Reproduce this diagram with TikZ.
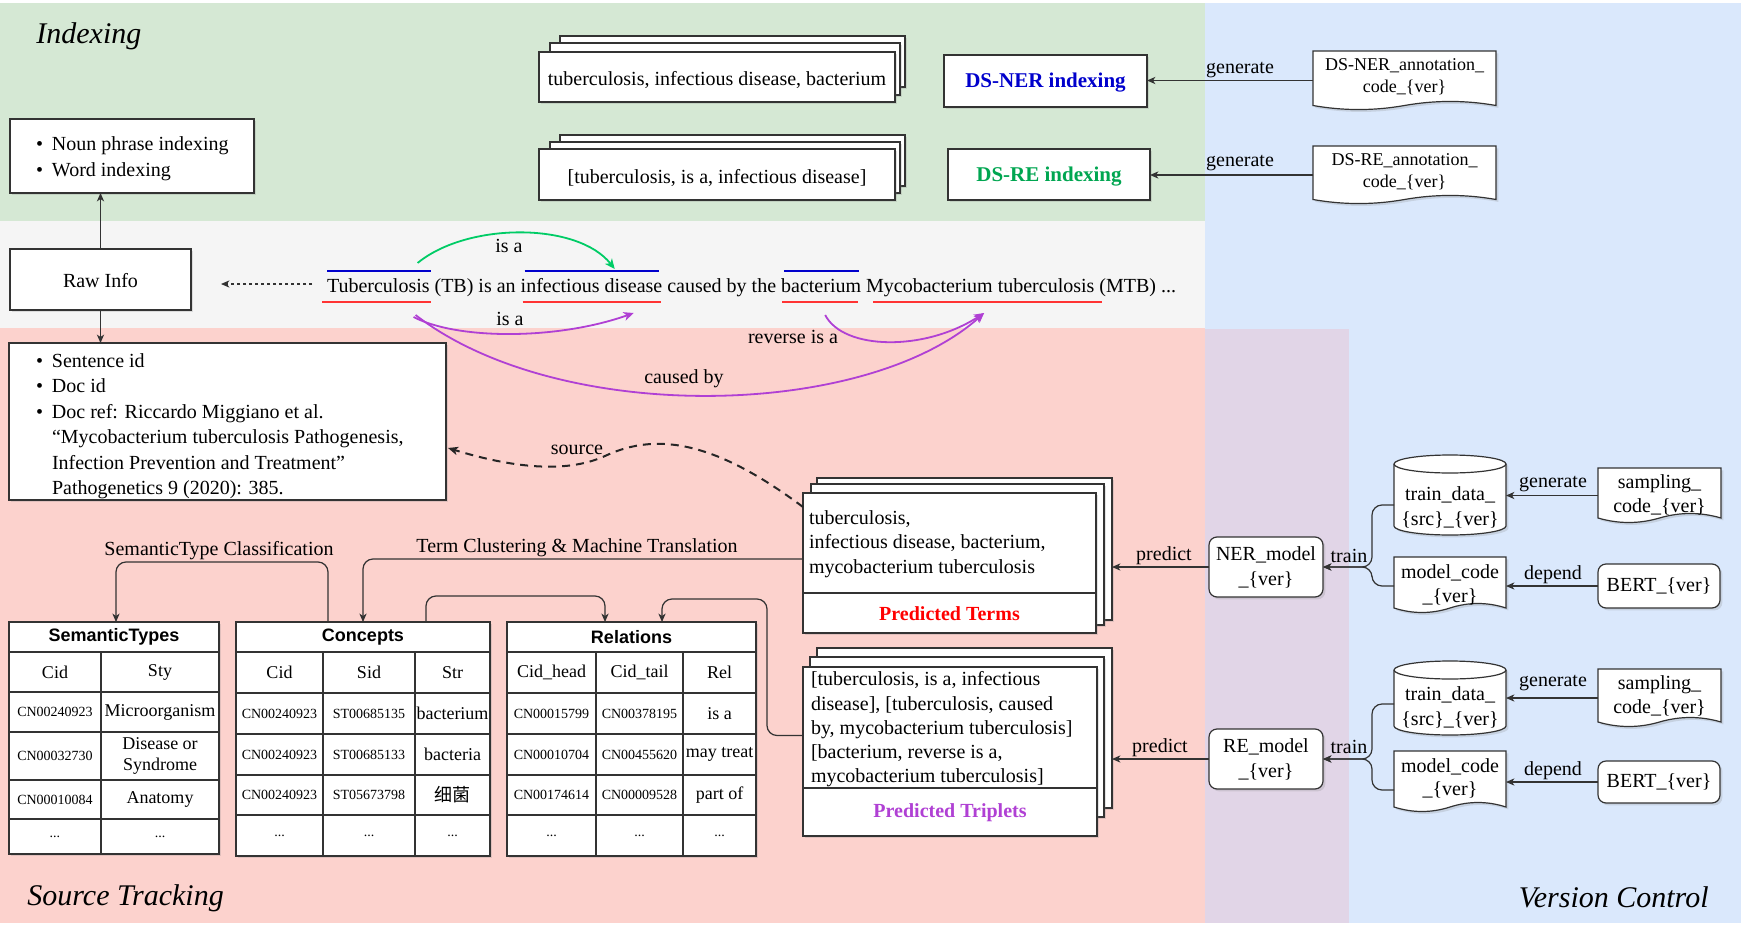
\documentclass[tikz,border=0pt]{standalone}
\usepackage{fontspec}
\setmainfont{Liberation Serif}
\setsansfont{Liberation Sans}
\newfontfamily\cjkfont{Noto Sans CJK SC}
\usetikzlibrary{arrows.meta,calc,shadows}

\definecolor{cgreen}{HTML}{D5E8D4}
\definecolor{cgray}{HTML}{F5F5F5}
\definecolor{cpink}{HTML}{FCD2CD}
\definecolor{cblue}{HTML}{DAE8FC}
\definecolor{clav}{HTML}{E1D5E7}
\definecolor{nerblue}{HTML}{0000CC}
\definecolor{regreen}{HTML}{00A651}
\definecolor{arrgreen}{HTML}{00CC66}
\definecolor{cpurple}{HTML}{B040D4}
\definecolor{ured}{HTML}{FF3333}
\definecolor{ovblue}{HTML}{0000CC}

\newcommand\bul{\makebox[8pt][l]{\textbullet}}
\newcommand\nobul{\hspace*{8pt}}
\newcommand\lowr[2]{\raisebox{-#1}[\height][\depth]{#2}}

\newcommand\bx[7][]{%
  \pgfmathsetmacro\bxcx{(#3+#5)/2}%
  \pgfmathsetmacro\bxcy{(#4+#6)/2}%
  \pgfmathsetmacro\bxw{(#5-#3)/2}%
  \pgfmathsetmacro\bxh{(#6-#4)/2}%
  \node[#1, minimum width=\bxw pt, minimum height=\bxh pt] (#2) at (\bxcx,\bxcy) {#7};%
}

% [text style]{name}{x1}{y1}{x2}{y2}{wave}{text shift}{text}
\newcommand\docshape[9][]{%
  \bx[plain]{#2}{#3}{#4}{#5}{#6}{}%
  \draw[docline] (#2.north west) -- (#2.north east) -- ($(#2.south east)+(0,-#7/2)$)
    .. controls ($(#2.south west)!0.8333!(#2.south east)+(0,-1.1*#7)$) and ($(#2.south west)!0.6667!(#2.south east)+(0,-1.1*#7)$) .. ($(#2.south west)!0.5!(#2.south east)+(0,-#7/2)$)
    .. controls ($(#2.south west)!0.3333!(#2.south east)+(0,0.1*#7)$) and ($(#2.south west)!0.1667!(#2.south east)+(0,0.1*#7)$) .. ($(#2.south west)+(0,-#7/2)$) -- cycle;%
  \node[lbl, align=center, #1] (#2t) at ($(#2.center)+(0,#8)$) {#9};%
}

\newcommand\cylshape[6]{%
  \pgfmathsetmacro\cxm{(#2+#4)/2}%
  \pgfmathsetmacro\crx{(#4-#2)/2}%
  \pgfmathsetmacro\cya{#3+#6}%
  \pgfmathsetmacro\cyb{#5-#6}%
  \pgfmathsetmacro\cyc{#3+2*#6}%
  \pgfmathsetmacro\ckx{0.5523*\crx}%
  \pgfmathsetmacro\cky{0.5523*#6}%
  \draw[docline] (#2,\cya) -- (#2,\cyb) .. controls (#2,\cyb+\cky) and (\cxm-\ckx,#5) .. (\cxm,#5) .. controls (\cxm+\ckx,#5) and (#4,\cyb+\cky) .. (#4,\cyb) -- (#4,\cya) .. controls (#4,\cya-\cky) and (\cxm+\ckx,#3) .. (\cxm,#3) .. controls (\cxm-\ckx,#3) and (#2,\cya-\cky) .. (#2,\cya) -- cycle;%
  \draw[conn] (#2,\cya) .. controls (#2,\cya+\cky) and (\cxm-\ckx,\cyc) .. (\cxm,\cyc) .. controls (\cxm+\ckx,\cyc) and (#4,\cya+\cky) .. (#4,\cya);%
  \bx[plain]{#1}{#2}{#3}{#4}{#5}{}%
}

\tikzset{
  plain/.style={inner sep=0pt, outer sep=0pt},
  shad/.style={drop shadow={shadow xshift=1.2pt, shadow yshift=-1.2pt, opacity=0.22}},
  box/.style={draw=black!80, line width=0.6pt, fill=white, inner sep=0pt, outer sep=0pt, font=\fontsize{10}{12.5}\selectfont, shad},
  fbox/.style={box, line width=1.1pt},
  rbox/.style={box, rounded corners=4pt, align=center},
  docline/.style={draw=black!80, line width=0.6pt, fill=white, shad},
  conn/.style={draw=black!80, line width=0.6pt},
  arr/.style={conn, -{Stealth[length=4.2pt, width=3.6pt, inset=1.2pt]}},
  darr/.style={arr, dash pattern=on 1.5pt off 1.5pt},
  sarr/.style={draw=black!85, line width=1pt, dash pattern=on 4pt off 3pt, -{Stealth[length=5pt, width=4.2pt, inset=1.3pt]}},
  lbl/.style={inner sep=0pt, outer sep=0pt, font=\fontsize{10}{12.5}\selectfont},
  big/.style={inner sep=0pt, font=\fontsize{15}{18}\selectfont\itshape},
  sent/.style={inner sep=0pt, outer sep=0pt, font=\fontsize{10}{12}\selectfont},
  ovl/.style={draw=ovblue, line width=1pt},
  unl/.style={draw=ured, line width=1pt},
  carr/.style={line width=0.9pt, -{Stealth[length=5pt, width=4.4pt, inset=1.4pt]}},
  tbox/.style={draw=black!80, line width=0.7pt, fill=white, inner sep=0pt, outer sep=0pt, shad},
  tline/.style={draw=black!80, line width=0.7pt},
  thead/.style={inner sep=0pt, font=\sffamily\bfseries\fontsize{9}{11}\selectfont},
  tcell/.style={inner sep=0pt, align=center, font=\fontsize{9}{10.75}\selectfont},
  tcode/.style={inner sep=0pt, font=\fontsize{7}{8}\selectfont},
}

\begin{document}
\begin{tikzpicture}[x=0.5pt,y=-0.5pt]
\useasboundingbox (0,0) rectangle (1741,926);
\fill[white] (0,0) rectangle (1741,926);
% regions
\fill[cgreen] (0,3) rectangle (1205,221);
\fill[cgray] (0,221) rectangle (1205,328);
\fill[cpink] (0,328) rectangle (1205,923);
\fill[cblue] (1205,3) rectangle (1741,923);
\fill[clav] (1205,329) rectangle (1349,923);

\node[big, anchor=west] (tIdx) at (36,36) {Indexing};
\node[big, anchor=west] (tSrc) at (27,898) {Source Tracking};
\node[big, anchor=east] (tVer) at (1709,897) {Version Control};

% indexing boxes
\bx[box]{nb}{10}{119}{254}{193}{}
\node[lbl, align=left, anchor=west, font=\fontsize{10}{13}\selectfont] (nbt) at (36,159) {\bul Noun phrase indexing\\\bul Word indexing};
\bx[box]{raw}{10}{249}{191}{310}{\lowr{0.5pt}{Raw Info}}

\bx[box]{k1c}{560}{36}{905}{87}{}
\bx[box]{k1b}{550}{43}{900}{95}{}
\bx[box]{k1a}{539}{52}{895}{102}{\lowr{1.5pt}{tuberculosis, infectious disease, bacterium}}
\bx[box]{k2c}{560}{135}{905}{186}{}
\bx[box]{k2b}{550}{142}{900}{193}{}
\bx[box]{k2a}{539}{149}{895}{200}{\lowr{1.5pt}{[tuberculosis, is a, infectious disease]}}

\bx[box, text=nerblue, font=\bfseries\fontsize{10.5}{12}\selectfont]{dsner}{944}{55}{1147}{107}{\lowr{1pt}{DS-NER indexing}}
\bx[box, text=regreen, font=\bfseries\fontsize{10.5}{12}\selectfont]{dsre}{948}{149}{1150}{200}{\lowr{1pt}{DS-RE indexing}}

\docshape[font=\fontsize{9}{11}\selectfont]{an1}{1313}{51}{1496}{110}{9}{-3.5}{DS-NER\_annotation\_\\code\_\{ver\}}
\docshape[font=\fontsize{9}{11}\selectfont]{an2}{1313}{146}{1496}{204}{9}{-3.5}{DS-RE\_annotation\_\\code\_\{ver\}}

\draw[arr] (an1.west) -- (an1.west -| dsner.east);
\draw[arr] (an2.west) -- (an2.west -| dsre.east);
\node[lbl] (g1) at (1240,70) {generate};
\node[lbl] (g2) at (1240,163) {generate};

% sentence
\node[sent, anchor=base west] (s1) at (327,292) {Tuberculosis};
\node[sent, anchor=base west] (s2) at (s1.base east) {\ (TB) is an\ \null};
\node[sent, anchor=base west] (s3) at (s2.base east) {infectious disease};
\node[sent, anchor=base west] (s4) at (s3.base east) {\ caused by the\ \null};
\node[sent, anchor=base west] (s5) at (s4.base east) {bacterium};
\node[sent, anchor=base west] (s6) at (s5.base east) {\null\ \null};
\node[sent, anchor=base west] (s7) at (s6.base east) {Mycobacterium tuberculosis};
\node[sent, anchor=base west] (s8) at (s7.base east) {\ (MTB) ...};

\draw[ovl] ($(s1.base west)+(0,-21)$) -- ($(s1.base east)+(1,-21)$);
\draw[unl] ($(s1.base west)+(-5,10)$) -- ($(s1.base east)+(1,10)$);
\draw[ovl] ($(s3.base west)+(4,-21)$) -- ($(s3.base east)+(-3,-21)$);
\draw[unl] ($(s3.base west)+(2,10)$) -- ($(s3.base east)+(-1,10)$);
\draw[ovl] ($(s5.base west)+(3,-21)$) -- ($(s5.base east)+(-2,-21)$);
\draw[unl] ($(s5.base west)+(1,10)$) -- ($(s5.base east)+(-3,10)$);
\draw[unl] ($(s7.base west)+(7,10)$) -- ($(s7.base east)+(8,10)$);

\draw[carr, draw=arrgreen] ($(s1.base east)+(-12,-29)$) .. controls +(50,-41) and +(-37,-47) .. ($(s3.base west)+(94,-23)$);
\draw[carr, draw=cpurple] ($(s1.base east)+(-16,25)$) .. controls +(44,23) and +(-76,27) .. ($(s3.base west)+(113,21)$);
\draw[carr, draw=cpurple] ($(s1.base east)+(-14,23)$) .. controls +(142,110) and +(-120,107) .. ($(s7.base west)+(118,21)$);
\draw[carr, draw=cpurple] ($(s5.base west)+(44,23)$) .. controls +(18,35) and +(-60,39) .. ($(s7.base west)+(118,21)$);
\node[lbl] (lisa1) at (509,246) {is a};
\node[lbl] (lisa2) at (510,319) {is a};
\node[lbl] (lcaus) at (684,379) {caused by};
\node[lbl] (lrev) at (793,337) {reverse is a};

\coordinate (dend) at ($(raw.east)+(30,4.5)$);
\draw[darr] ($(s1.base west)+(-15,-8)$) -- (dend);
\draw[arr] (raw.north) -- (raw.north |- nb.south);

% source box
\bx[box]{src}{9}{343}{446}{500}{}
\node[lbl, align=left, anchor=west, font=\fontsize{10}{12.75}\selectfont] (srct) at (36,426) {\bul Sentence id\\\bul Doc id\\\bul Doc ref: Riccardo Miggiano et al.\\\nobul “Mycobacterium tuberculosis Pathogenesis,\\\nobul Infection Prevention and Treatment”\\\nobul Pathogenetics 9 (2020): 385.};
\draw[arr] (raw.south) -- (raw.south |- src.north);

% predicted terms
\bx[box]{ptc}{817}{478}{1112}{620}{}
\bx[box]{ptb}{811}{484}{1104}{625}{}
\bx[fbox]{pt}{803}{493}{1096}{633}{}
\draw[line width=1.1pt, draw=black!80] ($(pt.north west)+(0,100)$) -- ($(pt.north east)+(0,100)$);
\node[lbl, align=left, anchor=west, font=\fontsize{10}{12.25}\selectfont] (ptx) at (809,544) {tuberculosis,\\infectious disease, bacterium,\\mycobacterium tuberculosis};
\node[lbl, text=red, font=\bfseries\fontsize{10}{12}\selectfont] (ptl) at (949.5,614) {Predicted Terms};

% predicted triplets
\bx[box]{tpc}{817}{648}{1112}{808}{}
\bx[box]{tpb}{810}{657}{1104}{817}{}
\bx[fbox]{tp}{803}{667}{1097}{836}{}
\draw[line width=1.1pt, draw=black!80] ($(tp.north west)+(0,121)$) -- ($(tp.north east)+(0,121)$);
\node[lbl, align=left, anchor=west, font=\fontsize{10}{12.15}\selectfont] (tpx) at (811,729.5) {[tuberculosis, is a, infectious\\disease], [tuberculosis, caused\\by, mycobacterium tuberculosis]\\{}[bacterium, reverse is a,\\mycobacterium tuberculosis]};
\node[lbl, text=cpurple, font=\bfseries\fontsize{10}{12}\selectfont] (tpl) at (950,813) {Predicted Triplets};

% source dashed
\draw[sarr] ($(pt.north west)+(0,14)$) .. controls (720,445) and (660,430) .. (605,456) .. controls (570,472) and (520,470) .. ($(src.north east)+(2,105)$);
\node[lbl] (lsrc) at (577,450) {source};

% tables
\bx[tbox]{stt}{9}{622}{219}{854}{}
\foreach \yy in {652,692,732,780,819} \draw[tline] (9,\yy) -- (219,\yy);
\draw[tline] (101,652) -- (101,854);
\node[thead] (sth) at (114,637) {SemanticTypes};
\node[tcell] (st1a) at (55,672) {Cid};
\node[tcell] (st1b) at (160,672) {Sty};
\node[tcode] (st2a) at (55,712) {CN00240923};
\node[tcell] (st2b) at (160,712) {Microorganism};
\node[tcode] (st3a) at (55,756) {CN00032730};
\node[tcell] (st3b) at (160,756) {Disease or\\Syndrome};
\node[tcode] (st4a) at (55,799.5) {CN00010084};
\node[tcell] (st4b) at (160,799.5) {Anatomy};
\node[tcode] (st5a) at (55,836.5) {...};
\node[tcode] (st5b) at (160,836.5) {...};

\bx[tbox]{cct}{236}{622}{490}{856}{}
\foreach \yy in {652,693,734,775,815} \draw[tline] (236,\yy) -- (490,\yy);
\draw[tline] (323,652) -- (323,856);
\draw[tline] (415,652) -- (415,856);
\node[thead] (cch) at (363,637) {Concepts};
\node[tcell] (cc1a) at (279.5,672.5) {Cid};
\node[tcell] (cc1b) at (369,672.5) {Sid};
\node[tcell] (cc1c) at (452.5,672.5) {Str};
\node[tcode] (cc2a) at (279.5,713.5) {CN00240923};
\node[tcode] (cc2b) at (369,713.5) {ST00685135};
\node[tcell] (cc2c) at (452.5,713.5) {bacterium};
\node[tcode] (cc3a) at (279.5,754.5) {CN00240923};
\node[tcode] (cc3b) at (369,754.5) {ST00685133};
\node[tcell] (cc3c) at (452.5,754.5) {bacteria};
\node[tcode] (cc4a) at (279.5,795) {CN00240923};
\node[tcode] (cc4b) at (369,795) {ST05673798};
\node[tcell] (cc4c) at (452.5,795) {\cjkfont 细菌};
\node[tcode] (cc5a) at (279.5,835.5) {...};
\node[tcode] (cc5b) at (369,835.5) {...};
\node[tcode] (cc5c) at (452.5,835.5) {...};

\bx[tbox]{rlt}{507}{622}{756}{856}{}
\foreach \yy in {652,693,734,775,815} \draw[tline] (507,\yy) -- (756,\yy);
\draw[tline] (596,652) -- (596,856);
\draw[tline] (683,652) -- (683,856);
\node[thead] (rlh) at (631.5,637) {Relations};
\node[tcell] (rl1a) at (551.5,672.5) {Cid\_head};
\node[tcell] (rl1b) at (639.5,672.5) {Cid\_tail};
\node[tcell] (rl1c) at (719.5,672.5) {Rel};
\node[tcode] (rl2a) at (551.5,713.5) {CN00015799};
\node[tcode] (rl2b) at (639.5,713.5) {CN00378195};
\node[tcell] (rl2c) at (719.5,713.5) {is a};
\node[tcode] (rl3a) at (551.5,754.5) {CN00010704};
\node[tcode] (rl3b) at (639.5,754.5) {CN00455620};
\node[tcell] (rl3c) at (719.5,754.5) {may treat};
\node[tcode] (rl4a) at (551.5,795) {CN00174614};
\node[tcode] (rl4b) at (639.5,795) {CN00009528};
\node[tcell] (rl4c) at (719.5,795) {part of};
\node[tcode] (rl5a) at (551.5,835.5) {...};
\node[tcode] (rl5b) at (639.5,835.5) {...};
\node[tcode] (rl5c) at (719.5,835.5) {...};

% table connectors
\draw[arr, rounded corners=5pt] ($(cct.north west)+(92,0)$) |- ($(stt.north)+(2,-60)$) -- ($(stt.north)+(2,0)$);
\node[lbl] (lsem) at (219,551) {SemanticType Classification};
\draw[arr, rounded corners=5pt] ($(pt.west)+(0,-4)$) -| ($(cct.north west)+(127,0)$);
\node[lbl] (lterm) at (577,548) {Term Clustering \& Machine Translation};
\draw[arr, rounded corners=5pt] ($(cct.north west)+(190,0)$) |- ($(rlt.north west)+(98,-26)$) -- ($(rlt.north west)+(98,0)$);
\draw[arr, rounded corners=5pt] ($(tp.west)+(0,-16)$) -- ++(-36,0) |- ($(rlt.north west)+(155,-23)$) -- ($(rlt.north west)+(155,0)$);

% version control side
\bx[rbox]{ner}{1209}{537}{1323}{597}{NER\_model\\\_\{ver\}}
\bx[rbox]{re}{1209}{729}{1323}{789}{RE\_model\\\_\{ver\}}

\cylshape{td1}{1394}{455}{1506}{535}{9}
\node[lbl, align=center] (td1t) at (1450,507.5) {train\_data\_\\\{src\}\_\{ver\}};
\cylshape{td2}{1394}{661}{1506}{735}{9}
\node[lbl, align=center] (td2t) at (1450,707.5) {train\_data\_\\\{src\}\_\{ver\}};

\docshape[font=\fontsize{10}{12}\selectfont]{sm1}{1598}{468}{1721}{523}{10}{-0.5}{sampling\_\\code\_\{ver\}}
\docshape[font=\fontsize{10}{12}\selectfont]{mc1}{1394}{557}{1506}{613}{10}{0}{model\_code\\\_\{ver\}}
\docshape[font=\fontsize{10}{12}\selectfont]{sm2}{1598}{669}{1721}{727}{10}{-2.5}{sampling\_\\code\_\{ver\}}
\docshape[font=\fontsize{10}{11.5}\selectfont]{mc2}{1394}{751}{1506}{812}{10}{-3}{model\_code\\\_\{ver\}}

\bx[rbox]{bt1}{1598}{564}{1720}{608}{BERT\_\{ver\}}
\bx[rbox]{bt2}{1598}{761}{1720}{803}{BERT\_\{ver\}}

\draw[arr] (sm1.west) -- (sm1.west -| td1.east);
\draw[arr] (bt1.west) -- (bt1.west -| mc1.east);
\draw[arr] (sm2.west) -- (sm2.west -| td2.east);
\draw[arr] (bt2.west) -- (bt2.west -| mc2.east);
\node[lbl] (gn1) at (1553,484) {generate};
\node[lbl] (dp1) at (1553,575) {depend};
\node[lbl] (gn2) at (1553,683) {generate};
\node[lbl] (dp2) at (1553,771) {depend};

\draw[arr, rounded corners=5pt] ($(td1.west)+(0,10)$) -| ($(ner.east)+(49,0)$) -- (ner.east);
\draw[arr, rounded corners=5pt] ($(mc1.west)+(0,1)$) -| ($(ner.east)+(49,0)$) -- (ner.east);
\draw[arr, rounded corners=5pt] ($(td2.west)+(0,6)$) -| ($(re.east)+(49,0)$) -- (re.east);
\draw[arr, rounded corners=5pt] ($(mc2.west)+(0,8.5)$) -| ($(re.east)+(49,0)$) -- (re.east);
\node[lbl] (tr1) at (1349,556) {train};
\node[lbl] (tr2) at (1349,747) {train};

\draw[arr] (ner.west) -- (ner.west -| ptc.east);
\draw[arr] (re.west) -- (re.west -| tpc.east);
\node[lbl] (pr1) at (1164,556) {predict};
\node[lbl] (pr2) at (1160,748) {predict};
\end{tikzpicture}
\end{document}
